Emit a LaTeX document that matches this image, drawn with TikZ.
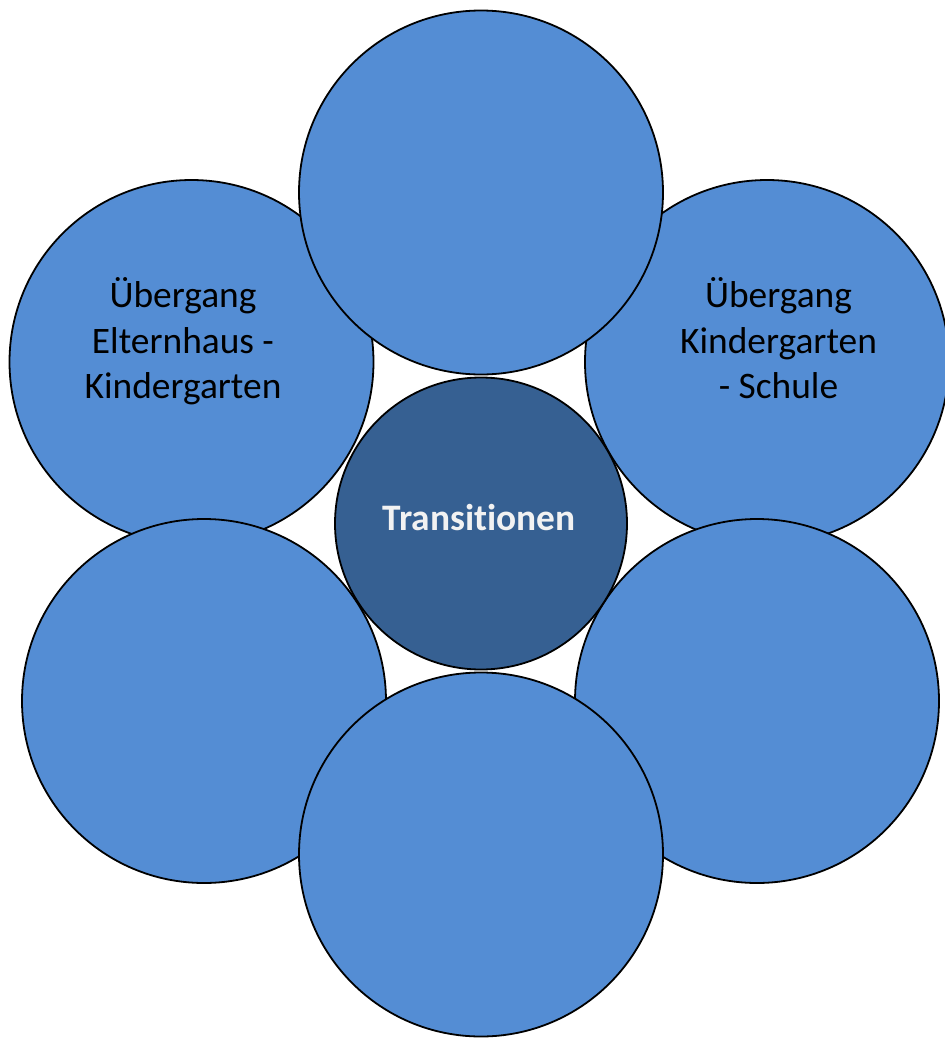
\documentclass[tikz,border=0pt]{standalone}
\usepackage{fontspec}
\setmainfont[Ligatures=NoCommon,RawFeature=-liga]{Carlito}
\definecolor{lb}{HTML}{548DD4}
\definecolor{db}{HTML}{366092}
\definecolor{wt}{HTML}{F2F2F2}
\begin{document}
\begin{tikzpicture}[x=1pt,y=-1pt,
 petal/.style={circle,draw=black,line width=1.8pt,fill=lb,minimum size=364pt,inner sep=0pt},
 hub/.style={circle,draw=black,line width=1.8pt,fill=db,minimum size=292pt,inner sep=0pt},
 lbl/.style={anchor=base,font=\fontsize{37.4}{45}\selectfont,inner sep=0pt,text=black},
 hublbl/.style={anchor=base,font=\fontsize{37.4}{45}\selectfont\bfseries,inner sep=0pt,text=wt}]
\useasboundingbox (0,0) rectangle (945,1039);
\node[petal] (ul) at (191.5,362) {};
\node[petal] (ur) at (767,362) {};
\node[petal] (ll) at (204,701) {};
\node[petal] (lr) at (757,701) {};
\node[petal] (top) at (481,192.5) {};
\node[petal] (bot) at (481,854.5) {};
\node[hub] (hub) at (481,523.5) {};
\node[lbl] (ul1) at (183,307) {Übergang};
\node[lbl] (ul2) at (183,353) {Elternhaus -};
\node[lbl] (ul3) at (183,398) {Kindergarten};
\node[lbl] (ur1) at (778.5,307) {Übergang};
\node[lbl] (ur2) at (778.5,353) {Kindergarten};
\node[lbl] (ur3) at (778.5,398) {- Schule};
\node[hublbl] (t) at (479,530) {Transitionen};
\end{tikzpicture}
\end{document}
